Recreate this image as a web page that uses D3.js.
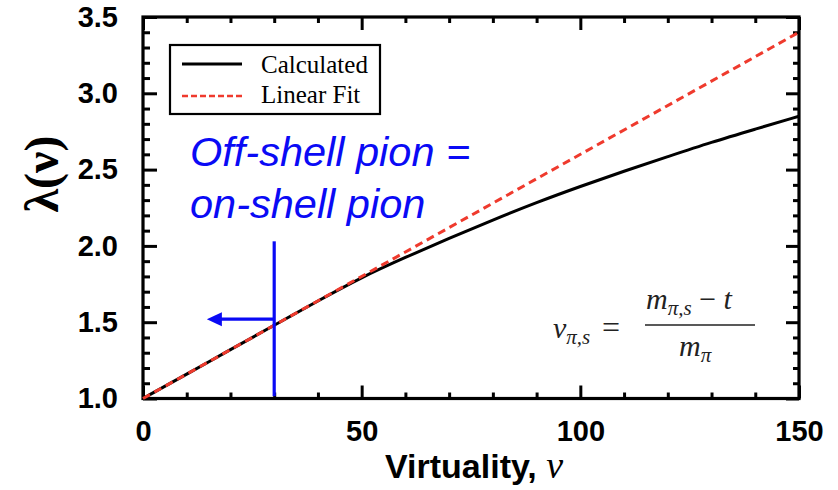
<!DOCTYPE html>
<html>
<head>
<meta charset="utf-8">
<script src="https://cdn.jsdelivr.net/npm/d3@7"></script>
<style>
  html, body { margin: 0; padding: 0; background: #fff; }
  svg { display: block; }
</style>
</head>
<body>
<svg id="chart" width="838" height="490"></svg>
<script>
// Virtuality values (x) and the calculated λ(ν)
const virtuality = [0, 10, 20, 30, 40, 50, 60, 70, 80, 90, 100, 110, 120, 130, 140, 150];
const lambdaCalculated = [1.0, 1.16, 1.32, 1.48, 1.64, 1.795, 1.925, 2.05, 2.17, 2.285, 2.39, 2.49, 2.585, 2.68, 2.765, 2.85];
// Linear fit end points
const fitX = [0, 150];
const fitY = [1.0, 3.4];
// Tick labels
const xTicks = [0, 50, 100, 150];
const yTicks = [1.0, 1.5, 2.0, 2.5, 3.0, 3.5];
const legendLabels = ["Calculated", "Linear Fit"];

const svg = d3.select("#chart");
const plotL = 143, plotR = 799, plotT = 17, plotB = 398.5;

const x = d3.scaleLinear().domain([0, 150]).range([plotL, plotR]);
const y = d3.scaleLinear().domain([1.0, 3.5]).range([plotB, plotT]);

const xMinor = d3.range(0, 151, 10).filter(v => v % 50 !== 0);
const yMinor = d3.range(10, 36, 1).map(v => v / 10).filter(v => Math.round(v * 10) % 5 !== 0);

function styleAxis(g) {
  g.select(".domain").remove();
  g.selectAll(".tick line").attr("stroke", "#000").attr("stroke-width", 3);
  g.selectAll(".tick text")
    .attr("font-family", "'Liberation Sans', Arial, sans-serif")
    .attr("font-weight", "bold")
    .attr("font-size", 29)
    .attr("fill", "#000");
}

// Bottom axis (ticks point inward)
svg.append("g").attr("transform", `translate(0,${plotB})`)
  .call(d3.axisBottom(x).tickValues(xTicks).tickSize(-13).tickPadding(22).tickFormat(d3.format("d")))
  .call(styleAxis);
svg.append("g").attr("transform", `translate(0,${plotB})`)
  .call(d3.axisBottom(x).tickValues(xMinor).tickSize(-6).tickFormat(""))
  .call(styleAxis);
// Top axis
svg.append("g").attr("transform", `translate(0,${plotT})`)
  .call(d3.axisTop(x).tickValues(xTicks).tickSize(-13).tickFormat(""))
  .call(styleAxis);
svg.append("g").attr("transform", `translate(0,${plotT})`)
  .call(d3.axisTop(x).tickValues(xMinor).tickSize(-6).tickFormat(""))
  .call(styleAxis);
// Left axis
svg.append("g").attr("transform", `translate(${plotL},0)`)
  .call(d3.axisLeft(y).tickValues(yTicks).tickSize(-14).tickPadding(25).tickFormat(d3.format(".1f")))
  .call(styleAxis);
svg.append("g").attr("transform", `translate(${plotL},0)`)
  .call(d3.axisLeft(y).tickValues(yMinor).tickSize(-7).tickFormat(""))
  .call(styleAxis);
// Right axis
svg.append("g").attr("transform", `translate(${plotR},0)`)
  .call(d3.axisRight(y).tickValues(yTicks).tickSize(-13).tickFormat(""))
  .call(styleAxis);
svg.append("g").attr("transform", `translate(${plotR},0)`)
  .call(d3.axisRight(y).tickValues(yMinor).tickSize(-6).tickFormat(""))
  .call(styleAxis);

// Frame
svg.append("rect")
  .attr("x", plotL).attr("y", plotT)
  .attr("width", plotR - plotL).attr("height", plotB - plotT)
  .attr("fill", "none").attr("stroke", "#000").attr("stroke-width", 3.2);

// Curves
const line = d3.line().x(d => x(d[0])).y(d => y(d[1])).curve(d3.curveBasis);
svg.append("path")
  .datum(virtuality.map((v, i) => [v, lambdaCalculated[i]]))
  .attr("d", line)
  .attr("fill", "none").attr("stroke", "#000").attr("stroke-width", 3);
svg.append("path")
  .datum(fitX.map((v, i) => [v, fitY[i]]))
  .attr("d", d3.line().x(d => x(d[0])).y(d => y(d[1])))
  .attr("fill", "none").attr("stroke", "#ef3a2d").attr("stroke-width", 3)
  .attr("stroke-dasharray", "8,5");

// Legend
const lg = svg.append("g");
lg.append("rect").attr("x", 170).attr("y", 45).attr("width", 210).attr("height", 69)
  .attr("fill", "#fff").attr("stroke", "#000").attr("stroke-width", 2.2);
lg.append("line").attr("x1", 182).attr("x2", 242).attr("y1", 64).attr("y2", 64)
  .attr("stroke", "#000").attr("stroke-width", 3);
lg.append("line").attr("x1", 182).attr("x2", 242).attr("y1", 96).attr("y2", 96)
  .attr("stroke", "#ef3a2d").attr("stroke-width", 2.5).attr("stroke-dasharray", "6,3");
lg.selectAll("text.lab").data(legendLabels).join("text")
  .attr("class", "lab")
  .attr("x", 261).attr("y", (d, i) => 73 + i * 30)
  .attr("font-family", "'Liberation Serif', 'Times New Roman', serif")
  .attr("font-size", 25).attr("fill", "#000")
  .text(d => d);

// Axis titles
svg.append("text")
  .attr("transform", "translate(58,174) rotate(-90)")
  .attr("text-anchor", "middle")
  .attr("font-family", "'Liberation Serif', 'Times New Roman', serif")
  .attr("font-weight", "bold").attr("font-size", 48).attr("fill", "#000")
  .text("λ(ν)");
const xt = svg.append("text")
  .attr("x", 385).attr("y", 478)
  .attr("font-family", "'Liberation Sans', Arial, sans-serif")
  .attr("font-weight", "bold").attr("font-size", 34).attr("fill", "#000");
xt.append("tspan").text("Virtuality, ");
xt.append("tspan")
  .attr("font-family", "'Liberation Serif', 'Times New Roman', serif")
  .attr("font-style", "italic").attr("font-weight", "normal").attr("font-size", 38).text("ν");

// Annotation: off-shell = on-shell region
const blue = "#0a0af5";
const ann = svg.append("g").attr("fill", blue)
  .attr("font-family", "'Liberation Sans', Arial, sans-serif")
  .attr("font-style", "italic").attr("font-size", 41.5);
ann.append("text").attr("x", 190).attr("y", 166).text("Off-shell pion =");
ann.append("text").attr("x", 190).attr("y", 218).text("on-shell pion");

svg.append("line")
  .attr("x1", x(30)).attr("x2", x(30)).attr("y1", y(2.03)).attr("y2", y(1.015))
  .attr("stroke", blue).attr("stroke-width", 3.2);
const ay = y(1.52);
svg.append("line")
  .attr("x1", x(30)).attr("x2", x(14.6) + 12).attr("y1", ay).attr("y2", ay)
  .attr("stroke", blue).attr("stroke-width", 3.2);
svg.append("path")
  .attr("d", `M${x(14.6)},${ay} L${x(14.6) + 15},${ay - 7} L${x(14.6) + 15},${ay + 7} Z`)
  .attr("fill", blue);

// Definition of virtuality
const f = svg.append("g")
  .attr("font-family", "'Liberation Serif', 'Times New Roman', serif")
  .attr("font-size", 30).attr("fill", "#222");
const lhs = f.append("text").attr("x", 553).attr("y", 338).attr("font-style", "italic");
lhs.append("tspan").text("ν");
lhs.append("tspan").attr("font-size", 21).attr("dy", 6).text("π,s");
f.append("text").attr("x", 602).attr("y", 338).attr("font-size", 32).text("=");
const num = f.append("text").attr("x", 646).attr("y", 309).attr("font-style", "italic");
num.append("tspan").text("m");
num.append("tspan").attr("font-size", 21).attr("dy", 6).text("π,s");
num.append("tspan").attr("dy", -6).attr("font-style", "normal").text(" − ");
num.append("tspan").text("t");
f.append("line").attr("x1", 645).attr("x2", 755).attr("y1", 325).attr("y2", 325)
  .attr("stroke", "#222").attr("stroke-width", 1.6);
const den = f.append("text").attr("x", 679).attr("y", 356).attr("font-style", "italic");
den.append("tspan").text("m");
den.append("tspan").attr("font-size", 21).attr("dy", 6).text("π");
</script>
</body>
</html>
